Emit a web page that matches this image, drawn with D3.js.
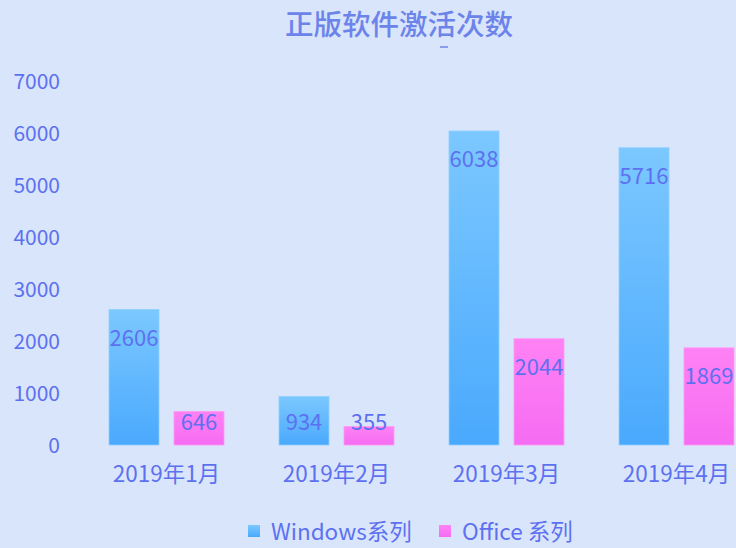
<!DOCTYPE html>
<html>
<head>
<meta charset="utf-8">
<script src="https://cdn.jsdelivr.net/npm/d3@7"></script>
<style>
  body { margin: 0; background: #d9e5fb; overflow: hidden; }
  text { font-family: "Noto Sans CJK SC", "Noto Sans", sans-serif; }
</style>
</head>
<body>
<div class="chart"></div>
<script>
// chart data
var months = ["2019年1月", "2019年2月", "2019年3月", "2019年4月"];
var seriesNames = ["Windows系列", "Office 系列"];
var windowsVals = [2606, 934, 6038, 5716];
var officeVals = [646, 355, 2044, 1869];
var yTicks = [0, 1000, 2000, 3000, 4000, 5000, 6000, 7000];

var svgWidth = 736;
var svgHeight = 548;
var textColor = "#5d71f0";

var svg = d3.select(".chart")
  .append("svg")
  .attr("width", svgWidth)
  .attr("height", svgHeight);

svg.append("rect")
  .attr("width", svgWidth)
  .attr("height", svgHeight)
  .attr("fill", "#d9e5fb");

// gradients for the bars
var defs = svg.append("defs");
var gradWin = defs.append("linearGradient")
  .attr("id", "gradWin").attr("x1", 0).attr("y1", 0).attr("x2", 0).attr("y2", 1);
gradWin.append("stop").attr("offset", "0%").attr("stop-color", "#7cc8ff");
gradWin.append("stop").attr("offset", "100%").attr("stop-color", "#4aa9fd");
var gradOff = defs.append("linearGradient")
  .attr("id", "gradOff").attr("x1", 0).attr("y1", 0).attr("x2", 0).attr("y2", 1);
gradOff.append("stop").attr("offset", "0%").attr("stop-color", "#ff82f4");
gradOff.append("stop").attr("offset", "100%").attr("stop-color", "#f56cf2");

// title
svg.append("text")
  .attr("x", 399)
  .attr("y", 35)
  .attr("text-anchor", "middle")
  .attr("fill", "#6c84ea")
  .attr("font-size", "28.5px")
  .attr("font-weight", 500)
  .text("正版软件激活次数");

svg.append("line")
  .attr("x1", 440).attr("x2", 448)
  .attr("y1", 47).attr("y2", 47)
  .attr("stroke", "#6c84ea")
  .attr("stroke-width", 1.5);

// scales
var x0 = d3.scaleBand()
  .domain(months)
  .range([81.5, 761.5]);

var x1 = d3.scaleBand()
  .domain(seriesNames)
  .range([0, x0.bandwidth()])
  .paddingInner(0.2308)
  .paddingOuter(0.423);

var y = d3.scaleLinear()
  .domain([0, 7000])
  .range([445, 81]);

// y axis
var yAxis = svg.append("g")
  .attr("transform", "translate(60, 0)")
  .call(d3.axisLeft(y).tickValues(yTicks).tickFormat(d3.format("d")).tickSize(0).tickPadding(0));
yAxis.select(".domain").remove();
yAxis.selectAll("text")
  .attr("fill", textColor)
  .attr("font-size", "21px")
  .attr("font-family", "\"Noto Sans CJK SC\", sans-serif")
  .attr("dy", "0.36em");

// x axis
var xAxis = svg.append("g")
  .attr("transform", "translate(0, 482)")
  .call(d3.axisBottom(x0).tickSize(0).tickPadding(0));
xAxis.select(".domain").remove();
xAxis.selectAll("text")
  .attr("fill", textColor)
  .attr("font-size", "22.5px")
  .attr("font-family", "\"Noto Sans CJK SC\", sans-serif")
  .attr("dy", 0);

// bars
var rows = months.map(function(m, i) {
  return { month: m, vals: [
    { name: seriesNames[0], value: windowsVals[i], fill: "url(#gradWin)", stroke: "#8fd0ff" },
    { name: seriesNames[1], value: officeVals[i], fill: "url(#gradOff)", stroke: "#ff9af6" }
  ]};
});

var groups = svg.selectAll(".grp")
  .data(rows)
  .enter()
  .append("g")
  .attr("class", "grp")
  .attr("transform", d => `translate(${x0(d.month)}, 0)`);

groups.selectAll("rect")
  .data(d => d.vals)
  .enter()
  .append("rect")
  .attr("x", d => x1(d.name))
  .attr("width", x1.bandwidth())
  .attr("y", d => y(d.value))
  .attr("height", d => y(0) - y(d.value))
  .attr("fill", d => d.fill)
  .attr("stroke", d => d.stroke)
  .attr("stroke-width", 0.8);

// data labels, inside the top of the bar, kept above the axis
groups.selectAll(".lbl")
  .data(d => d.vals)
  .enter()
  .append("text")
  .attr("class", "lbl")
  .attr("x", d => x1(d.name) + x1.bandwidth() / 2)
  .attr("y", d => Math.min(y(d.value) + 28.5, y(0) - 23))
  .attr("dy", "0.36em")
  .attr("text-anchor", "middle")
  .attr("fill", textColor)
  .attr("font-size", "22px")
  .text(d => d.value);

// legend
var legendColors = ["url(#gradWin)", "url(#gradOff)"];
var legendX = [248, 439];
var legend = svg.selectAll(".legend")
  .data(seriesNames)
  .enter()
  .append("g")
  .attr("class", "legend")
  .attr("transform", (d, i) => `translate(${legendX[i]}, 525)`);

legend.append("rect")
  .attr("width", 12)
  .attr("height", 12)
  .attr("fill", (d, i) => legendColors[i]);

legend.append("text")
  .attr("x", 23)
  .attr("y", 7)
  .attr("dy", "0.36em")
  .attr("fill", textColor)
  .attr("font-size", "22.5px")
  .text(d => d);
</script>
</body>
</html>
